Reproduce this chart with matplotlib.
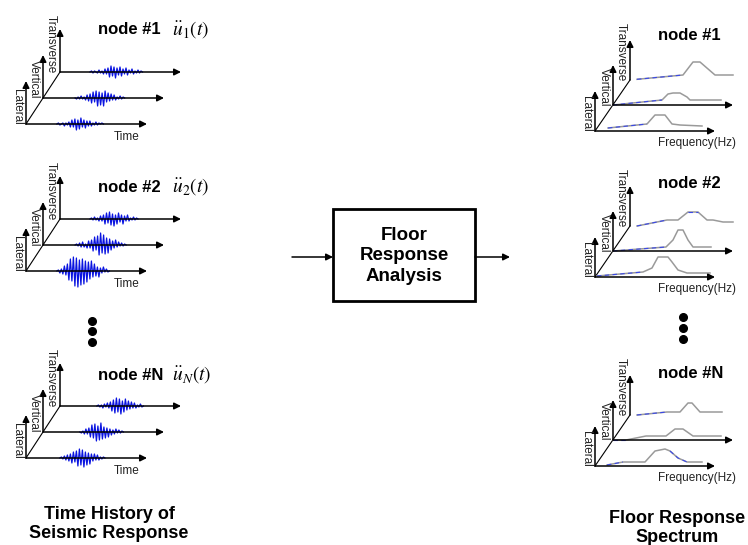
import matplotlib.pyplot as plt
from matplotlib.patches import Rectangle
from matplotlib.transforms import Affine2D

plt.rcParams['font.family'] = ['Liberation Sans', 'DejaVu Sans']
plt.rcParams['mathtext.fontset'] = 'stix'

# ---- data ----
directions = ['Lateral', 'Vertical', 'Transverse']
node_names = ['node #1', 'node #2', 'node #N']
node_subs = ['1', '2', 'N']

# seismic time histories (s onset, amplitude samples every 0.5 s)
onsets = [[10.3, 10.7, 10.0],
          [10.3, 10.7, 10.0],
          [11.3, 12.3, 12.3]]
accel = [
    [[0, 1, -1, 0, 1, -2, 1, -1, 2, -3, 4, -3, 5, -6, 4, -5, 6, -3, 4, -4, 3, -2, 3, -2, 1, -1, 2, -1, 1, 0, 1, 0],
     [0, -1, 1, -1, 2, -1, 1, -2, 3, -3, 4, -5, 6, -4, 7, -8, 6, -7, 5, -8, 7, -4, 5, -3, 4, -2, 3, -2, 1, -1, 2, -1, 1, 0],
     [0, 1, -1, 1, 0, -1, 2, -1, 1, -2, 3, -2, 4, -5, 6, -4, 5, -6, 4, -3, 5, -4, 3, -2, 4, -3, 2, -1, 3, -2, 1, -1, 2, -1, 1, 0]],
    [[0, 1, -2, 2, -3, 5, -4, 7, -9, 12, -10, 14, -15, 13, -16, 11, -14, 12, -13, 10, -11, 9, -8, 10, -6, 7, -5, 4, -6, 3, -2, 4, -1, 2, -1, 0],
     [0, 1, -1, 2, -2, 3, -2, 1, -3, 4, -3, 5, -6, 8, -5, 9, -10, 12, -8, 10, -9, 7, -8, 6, -5, 4, -3, 5, -2, 3, -1, 2, -1, 1, 0],
     [0, 1, -1, 2, -1, 1, -2, 3, -2, 4, -5, 6, -4, 7, -6, 5, -7, 4, -5, 6, -3, 4, -5, 3, -2, 4, -2, 1, -1, 2, -1, 1, 0]],
    [[0, 1, -1, 2, -2, 3, -3, 4, -5, 6, -4, 7, -8, 9, -7, 8, -9, 6, -7, 5, -6, 4, -3, 4, -2, 3, -2, 1, -1, 1, 0],
     [0, -1, 1, -2, 3, -2, 4, -5, 7, -6, 8, -9, 6, -8, 9, -7, 5, -6, 4, -5, 3, -3, 2, -2, 3, -1, 2, -1, 1, 0],
     [0, 1, -1, 1, -2, 2, -1, 3, -2, 4, -5, 6, -7, 8, -6, 7, -8, 5, -6, 7, -4, 5, -3, 4, -2, 3, -2, 1, -1, 2, -1, 0]],
]

# floor response spectra (frequency Hz, amplitude)
spec_f = [
    [[1.3, 5.2, 6.0, 7.0, 7.7, 8.5, 10.7],
     [0.0, 4.9, 5.5, 6.0, 6.7, 7.4, 7.7, 10.8],
     [0.7, 5.3, 6.3, 7.0, 8.5, 10.3]],
    [[0.2, 4.8, 5.7, 6.3, 7.3, 7.7, 8.3, 9.2, 11.5],
     [0.0, 5.3, 6.0, 6.5, 7.0, 7.5, 8.0, 9.8],
     [0.7, 3.7, 4.8, 5.8, 6.8, 7.7, 8.3, 9.3, 10.3]],
    [[1.2, 2.8, 5.0, 6.0, 7.0, 7.5, 8.3, 9.2, 10.7],
     [0.0, 1.3, 3.3, 5.3, 6.2, 7.0, 8.0, 10.8],
     [0.7, 3.7, 5.0, 5.8, 6.2, 7.0, 9.2]],
]
spec_a = [
    [[3, 7, 16, 16, 7, 6, 5],
     [0, 5, 11, 12, 12, 8, 5, 5],
     [0.7, 5, 18, 18, 5, 5]],
    [[1, 5, 9, 20, 20, 15, 7, 4, 4],
     [0, 4, 11, 21, 21, 11, 4, 4],
     [0, 6, 6, 14, 14, 6, 6, 4, 4]],
    [[1, 4, 4, 15, 17, 15, 8, 4, 4],
     [0, 0, 4, 4, 11, 11, 4, 4],
     [0, 3, 3, 12, 12, 3, 3]],
]
blue_parts = [  # index ranges drawn in blue
    [[(0, 1)], [(0, 1)], [(0, 1)]],
    [[(0, 1)], [(0, 1)], [(0, 1), (3, 4)]],
    [[(0, 1), (5, 7)], [(0, 1)], [(0, 1)]],
]

left_base = [124, 271, 458]
right_base = [131, 277, 466]

fig = plt.figure(figsize=(7.48, 5.45), dpi=100)
ax = fig.add_axes([0, 0, 1, 1])
ax.set_xlim(0, 748)
ax.set_ylim(545, 0)
ax.axis('off')


def arrow(x0, y0, x1, y1, lw=1.1, ms=10):
    ax.annotate('', xy=(x1, y1), xytext=(x0, y0),
                arrowprops=dict(arrowstyle='-|>', color='k', lw=lw,
                                mutation_scale=ms, shrinkA=0, shrinkB=0))


def frame(xs, ys, length, height, lab_size):
    # pseudo 3D axes: lateral, vertical, transverse
    for x0, y0, name in zip(xs, ys, directions):
        arrow(x0, y0, x0 + length, y0)
        arrow(x0, y0, x0, y0 - height)
        ax.text(x0 - 9, y0 + 1, name, rotation=270, ha='center', va='bottom',
                fontsize=lab_size, color='#222222')
    ax.plot([xs[0], xs[2]], [ys[0], ys[2]], color='k', lw=0.8)


# ---- left: time histories ----
for i, base in enumerate(left_base):
    xs = [26, 43, 60]
    ys = [base, base - 26, base - 52]
    frame(xs, ys, 121, 43, 8.5)
    ax.text(127, base + 13, 'Time', ha='center', va='center', fontsize=8.5, color='#222222')
    for j in range(3):
        tr = Affine2D().scale(3, -1).translate(xs[j], ys[j]) + ax.transData
        vals = accel[i][j]
        t = [onsets[i][j] + 0.5 * k for k in range(len(vals))]
        ax.plot(t, vals, color='#0a14e0', lw=0.9, transform=tr)
for y, s, sub in zip([30, 187, 375], node_names, node_subs):
    ax.text(98, y, s, fontsize=12, fontweight='bold', va='center')
    ax.text(172, y, r'$\ddot{u}_{%s}(t)$' % sub, fontsize=14, va='center')

# ---- right: response spectra ----
for i, base in enumerate(right_base):
    xs = [595, 613, 630]
    ys = [base, base - 26, base - 51]
    frame(xs, ys, 120, 40, 8.5)
    ax.text(697, base + 12, 'Frequency(Hz)', ha='center', va='center', fontsize=8.5, color='#222222')
    for j in range(3):
        tr = Affine2D().scale(10, -1).translate(xs[j], ys[j]) + ax.transData
        f = spec_f[i][j]
        a = spec_a[i][j]
        ax.plot(f, a, color='#9a9a9a', lw=1.1, transform=tr)
        for k0, k1 in blue_parts[i][j]:
            ax.plot(f[k0:k1 + 1], a[k0:k1 + 1], color='#3a48e8', lw=0.8,
                    ls=(0, (4, 3)), transform=tr)
for y, s in zip([35, 183, 373], node_names):
    ax.text(658, y, s, fontsize=12, fontweight='bold', va='center')

# dots
ax.plot([92, 92, 92], [321, 331, 342], 'o', color='k', ms=5.5)
ax.plot([683, 683, 683], [317, 328, 339], 'o', color='k', ms=5.5)

# ---- center box ----
ax.add_patch(Rectangle((333, 209), 142, 92, fill=False, lw=2, ec='k'))
ax.text(404, 256, 'Floor\nResponse\nAnalysis', ha='center', va='center',
        fontsize=13.5, fontweight='bold', linespacing=1.25)
arrow(292, 257, 333, 257)
arrow(475, 257, 510, 257)

# ---- bottom titles ----
ax.text(109, 524, 'Time History of\nSeismic Response', ha='center', va='center',
        fontsize=13, fontweight='bold', linespacing=1.2)
ax.text(677, 528, 'Floor Response\nSpectrum', ha='center', va='center',
        fontsize=13, fontweight='bold', linespacing=1.1)

fig.savefig('out.png', dpi=100)
